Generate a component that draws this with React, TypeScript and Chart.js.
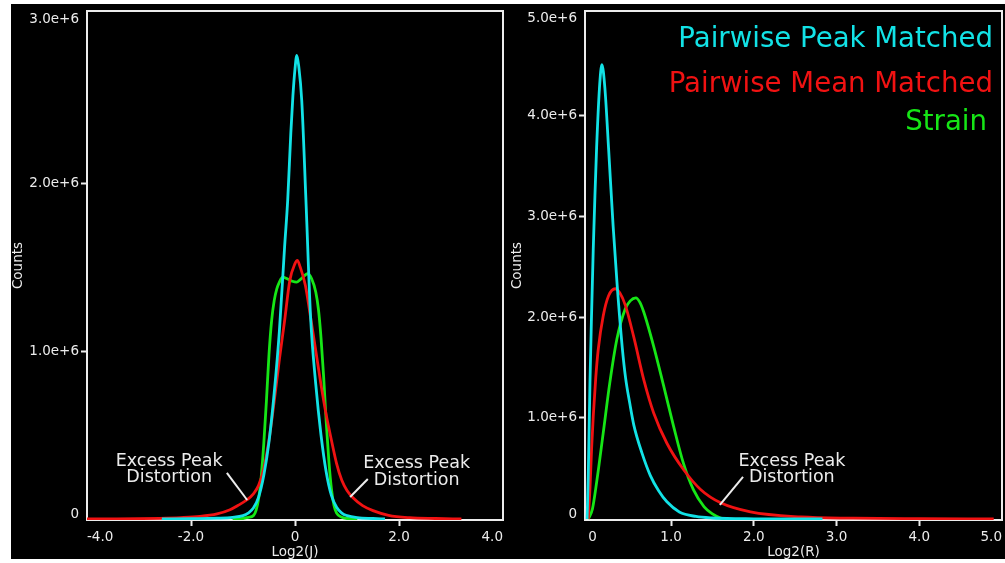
import React, { useEffect, useRef } from 'react';
import { Chart, registerables } from 'chart.js';

Chart.register(...registerables);

// ---------- data ----------
const SERIES_NAMES = ['Pairwise Peak Matched', 'Pairwise Mean Matched', 'Strain'];
const SERIES_COLORS = ['#12e2e6', '#f01212', '#16e616'];

// Left panel: Log2(J)   (counts in units of 1e6)
const J_X_TICKS = [-4, -2, 0, 2, 4];
const J_Y_TICKS = [0, 1, 2, 3];

const J_PEAK_X = [-2.56, -2.0, -1.5, -1.2, -1.0, -0.9, -0.8, -0.7, -0.6, -0.5, -0.4, -0.3, -0.2, -0.14, -0.08, -0.04, 0.0, 0.035, 0.07, 0.13, 0.21, 0.3, 0.4, 0.5, 0.6, 0.7, 0.8, 0.9, 1.0, 1.2, 1.5, 1.73];
const J_PEAK_Y = [0, 0.002, 0.005, 0.01, 0.02, 0.035, 0.065, 0.13, 0.26, 0.46, 0.75, 1.12, 1.62, 1.9, 2.3, 2.52, 2.68, 2.76, 2.7, 2.49, 1.9, 1.2, 0.8, 0.5, 0.28, 0.14, 0.07, 0.035, 0.02, 0.008, 0.003, 0];

const J_MEAN_X = [-4.0, -3.5, -3.0, -2.6, -2.2, -1.83, -1.5, -1.25, -1.1, -0.93, -0.8, -0.7, -0.6, -0.5, -0.4, -0.3, -0.2, -0.1, 0.0, 0.045, 0.1, 0.2, 0.3, 0.4, 0.5, 0.6, 0.7, 0.8, 0.9, 1.0, 1.12, 1.3, 1.5, 1.8, 2.2, 2.7, 3.2];
const J_MEAN_Y = [0.0005, 0.001, 0.002, 0.004, 0.008, 0.015, 0.03, 0.055, 0.08, 0.113, 0.15, 0.2, 0.3, 0.47, 0.7, 0.95, 1.18, 1.42, 1.52, 1.54, 1.5, 1.39, 1.2, 1.0, 0.8, 0.62, 0.47, 0.33, 0.23, 0.17, 0.125, 0.08, 0.05, 0.022, 0.008, 0.003, 0];

const J_STRAIN_X = [-1.2, -1.0, -0.9, -0.8, -0.75, -0.7, -0.65, -0.6, -0.55, -0.5, -0.45, -0.4, -0.35, -0.3, -0.24, -0.15, -0.05, 0.03, 0.1, 0.17, 0.24, 0.32, 0.4, 0.45, 0.5, 0.55, 0.6, 0.65, 0.7, 0.75, 0.8, 0.9, 1.0, 1.2];
const J_STRAIN_Y = [0, 0.003, 0.01, 0.02, 0.05, 0.12, 0.25, 0.45, 0.7, 0.98, 1.18, 1.3, 1.37, 1.41, 1.44, 1.43, 1.415, 1.41, 1.425, 1.445, 1.46, 1.43, 1.35, 1.25, 1.08, 0.85, 0.58, 0.35, 0.18, 0.08, 0.035, 0.01, 0.003, 0];

// Right panel: Log2(R)
const R_X_TICKS = [0, 1, 2, 3, 4, 5];
const R_Y_TICKS = [0, 1, 2, 3, 4, 5];

const R_PEAK_X = [-0.015, 0.0, 0.02, 0.04, 0.06, 0.08, 0.1, 0.135, 0.164, 0.2, 0.245, 0.3, 0.35, 0.41, 0.45, 0.5, 0.55, 0.65, 0.75, 0.85, 0.95, 1.1, 1.3, 1.5, 2.0, 2.4, 2.83];
const R_PEAK_Y = [0, 0.45, 1.35, 2.05, 2.68, 3.2, 3.67, 4.27, 4.5, 4.27, 3.67, 2.9, 2.3, 1.7, 1.4, 1.15, 0.93, 0.65, 0.43, 0.28, 0.17, 0.07, 0.025, 0.01, 0.002, 0.001, 0];

const R_MEAN_X = [0.0, 0.02, 0.04, 0.06, 0.09, 0.12, 0.18, 0.245, 0.325, 0.38, 0.446, 0.547, 0.67, 0.79, 0.95, 1.15, 1.36, 1.6, 1.96, 2.57, 3.2, 4.0, 4.9];
const R_MEAN_Y = [0, 0.3, 0.7, 1.02, 1.4, 1.68, 2.01, 2.21, 2.28, 2.24, 2.12, 1.81, 1.38, 1.05, 0.75, 0.49, 0.29, 0.16, 0.07, 0.02, 0.008, 0.003, 0];

const R_STRAIN_X = [0.0, 0.05, 0.1, 0.18, 0.26, 0.345, 0.446, 0.507, 0.575, 0.62, 0.67, 0.79, 0.91, 1.03, 1.15, 1.27, 1.4, 1.5, 1.6, 1.7];
const R_STRAIN_Y = [0, 0.1, 0.36, 0.85, 1.35, 1.78, 2.08, 2.16, 2.19, 2.15, 2.05, 1.71, 1.32, 0.92, 0.55, 0.29, 0.12, 0.05, 0.01, 0];

// annotations: text anchor (data coords) and pointer line (data coords)
const ANNOT_TEXT = ['Excess Peak', 'Distortion'];
const J_NOTES = [
  { x: -2.42, y1: 0.34, y2: 0.25, from: [-1.31, 0.274], to: [-0.92, 0.113] },
  { x: 2.34, y1: 0.333, y2: 0.232, from: [1.4, 0.238], to: [1.06, 0.131] },
];
const R_NOTES = [
  { x: 2.46, y1: 0.567, y2: 0.408, from: [1.87, 0.418], to: [1.59, 0.139] },
];

// ---------- styling ----------
const FONT = "'DejaVu Sans', 'Liberation Sans', sans-serif";
const TEXT = '#ececec';
const AXIS_SIZE = 13.5;

const fmtX = (v: number) => (v === 0 ? '0' : v.toFixed(1));
const fmtY = (v: number) => (v === 0 ? '0' : (v / 1e6).toFixed(1) + 'e+6');

const toPoints = (xs: number[], ys: number[]) => xs.map((x, i) => ({ x, y: ys[i] * 1e6 }));

const panelDecor = {
  id: 'panelDecor',
  beforeDatasetsDraw(chart: any) {
    const { ctx, chartArea: a } = chart;
    ctx.save();
    ctx.strokeStyle = TEXT;
    ctx.lineWidth = 2;
    ctx.strokeRect(a.left, a.top, a.right - a.left, a.bottom - a.top);
    ctx.restore();
  },
  afterDatasetsDraw(chart: any, _args: any, opts: any) {
    const { ctx, chartArea: a } = chart;
    const xs = chart.scales.x;
    const ys = chart.scales.y;
    ctx.save();
    // y tick labels (first / last pulled inside like the original)
    ctx.font = `${AXIS_SIZE}px ${FONT}`;
    ctx.fillStyle = TEXT;
    ctx.textAlign = 'right';
    ctx.textBaseline = 'middle';
    const n = ys.ticks.length;
    ys.ticks.forEach((t: any, i: number) => {
      let py = ys.getPixelForValue(t.value);
      if (i === 0) py -= 4;
      else if (i === n - 1) py += 4;
      ctx.fillText(fmtY(t.value), a.left - 8, py);
    });
    // annotations
    (opts.notes || []).forEach((nt: any) => {
      ctx.font = `17.5px ${FONT}`;
      ctx.fillStyle = TEXT;
      ctx.textAlign = 'center';
      ctx.textBaseline = 'middle';
      const px = xs.getPixelForValue(nt.x);
      ctx.fillText(ANNOT_TEXT[0], px, ys.getPixelForValue(nt.y1 * 1e6));
      ctx.fillText(ANNOT_TEXT[1], px, ys.getPixelForValue(nt.y2 * 1e6));
      ctx.strokeStyle = TEXT;
      ctx.lineWidth = 2;
      ctx.beginPath();
      ctx.moveTo(xs.getPixelForValue(nt.from[0]), ys.getPixelForValue(nt.from[1] * 1e6));
      ctx.lineTo(xs.getPixelForValue(nt.to[0]), ys.getPixelForValue(nt.to[1] * 1e6));
      ctx.stroke();
    });
    // legend (text only, coloured like the series)
    if (opts.legend) {
      const insets = [9, 9, 15];
      const baselines = [36, 81, 119];
      ctx.font = `27.6px ${FONT}`;
      ctx.textAlign = 'right';
      ctx.textBaseline = 'alphabetic';
      chart.data.datasets.forEach((d: any, i: number) => {
        ctx.fillStyle = d.borderColor;
        ctx.fillText(d.label, a.right - insets[i], a.top + baselines[i]);
      });
    }
    ctx.restore();
  },
};

const edgeTickColor = (c: any) =>
  c.index === 0 || c.index === c.scale.ticks.length - 1 ? 'rgba(0,0,0,0)' : TEXT;

function makeConfig(p: any): any {
  return {
    type: 'line',
    data: {
      datasets: p.series.map((s: any, i: number) => ({
        label: SERIES_NAMES[i],
        data: toPoints(s[0], s[1]),
        borderColor: SERIES_COLORS[i],
        backgroundColor: SERIES_COLORS[i],
        borderWidth: 2.8,
        pointRadius: 0,
        fill: false,
        cubicInterpolationMode: 'monotone',
      })),
    },
    options: {
      responsive: false,
      maintainAspectRatio: false,
      animation: false,
      layout: { padding: { left: 0, top: 7, right: p.padRight, bottom: 0 } },
      plugins: {
        legend: { display: false },
        tooltip: { enabled: false },
        panelDecor: { notes: p.notes, legend: p.legend },
      },
      scales: {
        x: {
          type: 'linear',
          min: p.xMin,
          max: p.xMax,
          afterBuildTicks: (s: any) => {
            s.ticks = p.xTicks.map((v: number) => ({ value: v }));
          },
          afterFit: (s: any) => {
            s.height = 39;
          },
          ticks: {
            color: TEXT,
            font: { family: FONT, size: AXIS_SIZE },
            align: 'inner',
            padding: 3,
            maxRotation: 0,
            autoSkip: false,
            callback: (v: any) => fmtX(Number(v)),
          },
          grid: { display: true, drawOnChartArea: false, drawTicks: true, tickLength: 6, tickWidth: 2, tickColor: edgeTickColor },
          border: { display: false },
          title: {
            display: true,
            text: p.xTitle,
            color: TEXT,
            font: { family: FONT, size: AXIS_SIZE, lineHeight: 1 },
            padding: { top: 0, bottom: 0 },
          },
        },
        y: {
          type: 'linear',
          min: p.yMin * 1e6,
          max: p.yMax * 1e6,
          afterBuildTicks: (s: any) => {
            s.ticks = p.yTicks.map((v: number) => ({ value: v * 1e6 }));
          },
          afterFit: (s: any) => {
            s.width = p.yWidth;
          },
          ticks: { display: false },
          grid: { display: true, drawOnChartArea: false, drawTicks: true, tickLength: 6, tickWidth: 2, tickColor: edgeTickColor },
          border: { display: false },
          title: {
            display: true,
            text: 'Counts',
            color: TEXT,
            font: { family: FONT, size: AXIS_SIZE, lineHeight: 1 },
            padding: { top: p.yTitlePad, bottom: 0 },
          },
        },
      },
    },
    plugins: [panelDecor],
  };
}

export default function App() {
  const leftRef = useRef<HTMLCanvasElement>(null);
  const rightRef = useRef<HTMLCanvasElement>(null);

  useEffect(() => {
    const left = new Chart(
      leftRef.current as HTMLCanvasElement,
      makeConfig({
        series: [
          [J_PEAK_X, J_PEAK_Y],
          [J_MEAN_X, J_MEAN_Y],
          [J_STRAIN_X, J_STRAIN_Y],
        ],
        xMin: -4,
        xMax: 4,
        xTicks: J_X_TICKS,
        yMin: -0.006,
        yMax: 3.024,
        yTicks: J_Y_TICKS,
        xTitle: 'Log2(J)',
        yWidth: 76,
        yTitlePad: 0.5,
        padRight: 4,
        notes: J_NOTES,
        legend: false,
      })
    );
    const right = new Chart(
      rightRef.current as HTMLCanvasElement,
      makeConfig({
        series: [
          [R_PEAK_X, R_PEAK_Y],
          [R_MEAN_X, R_MEAN_Y],
          [R_STRAIN_X, R_STRAIN_Y],
        ],
        xMin: -0.04,
        xMax: 5.0,
        xTicks: R_X_TICKS,
        yMin: -0.01,
        yMax: 5.03,
        yTicks: R_Y_TICKS,
        xTitle: 'Log2(R)',
        yWidth: 78,
        yTitlePad: 3.5,
        padRight: 3,
        notes: R_NOTES,
        legend: true,
      })
    );
    return () => {
      left.destroy();
      right.destroy();
    };
  }, []);

  return (
    <div
      style={{
        position: 'absolute',
        left: 11,
        top: 4,
        width: 994,
        height: 555,
        background: '#000',
      }}
    >
      <canvas ref={leftRef} width={496} height={555} style={{ position: 'absolute', left: 0, top: 0, display: 'block' }} />
      <canvas ref={rightRef} width={498} height={555} style={{ position: 'absolute', left: 496, top: 0, display: 'block' }} />
    </div>
  );
}
